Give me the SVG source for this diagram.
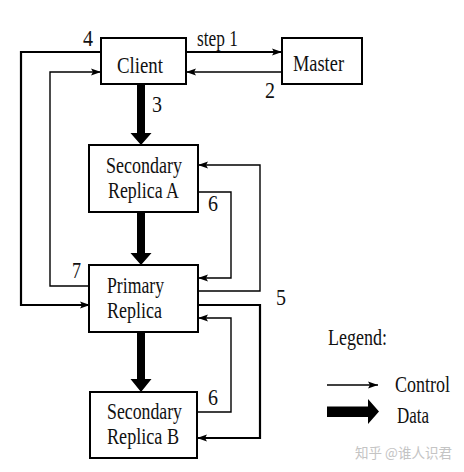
<svg xmlns="http://www.w3.org/2000/svg" width="464" height="472" viewBox="0 0 464 472" font-family="Liberation Serif, DejaVu Serif, serif">
<style>
.box{fill:#fff;stroke:#000;stroke-width:2}
.t{font-size:24px;fill:#111}
.c{fill:none;stroke:#000;stroke-width:1.4}
.ck{fill:none;stroke:#000;stroke-width:2.2}
.d{fill:#000;stroke:none}
.wm{font-size:14px;fill:#c4c4c4}
</style>
<defs>
<marker id="ah" markerUnits="userSpaceOnUse" markerWidth="11" markerHeight="8" refX="10" refY="4" orient="auto">
<path d="M0,0.5 L10,4 L0,7.5 L2,4 z" fill="#000"/>
</marker>
</defs>
<rect width="464" height="472" fill="#fff"/>
<g id="connectors">
<path class="ck" d="M186,52 H282" marker-end="url(#ah)"/>
<path class="c" d="M282,72 H186" marker-end="url(#ah)"/>
<path class="ck" d="M101,52 H21 V305 H90" marker-end="url(#ah)"/>
<path class="c" d="M90,286 H50 V72 H101" marker-end="url(#ah)"/>
<path class="c" d="M198,291 H260 V165 H198" marker-end="url(#ah)"/>
<path class="c" d="M198,192 H231 V278 H198" marker-end="url(#ah)"/>
<path class="ck" d="M198,305 H260 V438 H197" marker-end="url(#ah)"/>
<path class="c" d="M197,412 H231 V318 H198" marker-end="url(#ah)"/>
<polygon class="d" points="137,84 145,84 145,133 151.5,133 141,145 130.5,133 137,133"/>
<polygon class="d" points="137,212 145,212 145,253 151.5,253 141,265 130.5,253 137,253"/>
<polygon class="d" points="137,332 145,332 145,379 151.5,379 141,392 130.5,379 137,379"/>
<text class="t" x="197" y="46" textLength="41" lengthAdjust="spacingAndGlyphs">step 1</text>
<text class="t" x="265" y="98" textLength="10" lengthAdjust="spacingAndGlyphs">2</text>
<text class="t" x="152" y="112" textLength="10" lengthAdjust="spacingAndGlyphs">3</text>
<text class="t" x="83" y="46" textLength="10" lengthAdjust="spacingAndGlyphs">4</text>
<text class="t" x="276" y="305" textLength="10" lengthAdjust="spacingAndGlyphs">5</text>
<text class="t" x="208" y="211" textLength="10" lengthAdjust="spacingAndGlyphs">6</text>
<text class="t" x="208" y="405" textLength="10" lengthAdjust="spacingAndGlyphs">6</text>
<text class="t" x="72" y="278" textLength="9" lengthAdjust="spacingAndGlyphs">7</text>
</g>
<g id="client">
<rect class="box" x="101" y="38" width="85" height="46"/>
<text class="t" x="117" y="73" textLength="46" lengthAdjust="spacingAndGlyphs">Client</text>
</g>
<g id="master">
<rect class="box" x="282" y="38" width="80" height="46"/>
<text class="t" x="293" y="71" textLength="51" lengthAdjust="spacingAndGlyphs">Master</text>
</g>
<g id="secondaryA">
<rect class="box" x="89" y="145" width="109" height="67"/>
<text class="t" x="106" y="173" textLength="76" lengthAdjust="spacingAndGlyphs">Secondary</text>
<text class="t" x="108" y="198" textLength="71" lengthAdjust="spacingAndGlyphs">Replica A</text>
</g>
<g id="primary">
<rect class="box" x="89" y="265" width="109" height="67"/>
<text class="t" x="107" y="293" textLength="57" lengthAdjust="spacingAndGlyphs">Primary</text>
<text class="t" x="107" y="318" textLength="55" lengthAdjust="spacingAndGlyphs">Replica</text>
</g>
<g id="secondaryB">
<rect class="box" x="90" y="392" width="107" height="66"/>
<text class="t" x="107" y="419" textLength="75" lengthAdjust="spacingAndGlyphs">Secondary</text>
<text class="t" x="107" y="444" textLength="72" lengthAdjust="spacingAndGlyphs">Replica B</text>
</g>
<g id="legend">
<text class="t" x="328" y="345" textLength="59" lengthAdjust="spacingAndGlyphs">Legend:</text>
<path class="c" d="M327,385 H378" marker-end="url(#ah)"/>
<text class="t" transform="translate(395,392) scale(0.75,1)" x="0" y="0">Control</text>
<polygon class="d" points="327,406.5 368,406.5 368,399 379,411.5 368,424 368,417 327,417"/>
<text class="t" x="397" y="423" textLength="32" lengthAdjust="spacingAndGlyphs">Data</text>
</g>
<text class="wm" x="355" y="458" textLength="97" lengthAdjust="spacingAndGlyphs" font-family="Noto Sans CJK SC, sans-serif">知乎 @谁人识君</text>
</svg>
